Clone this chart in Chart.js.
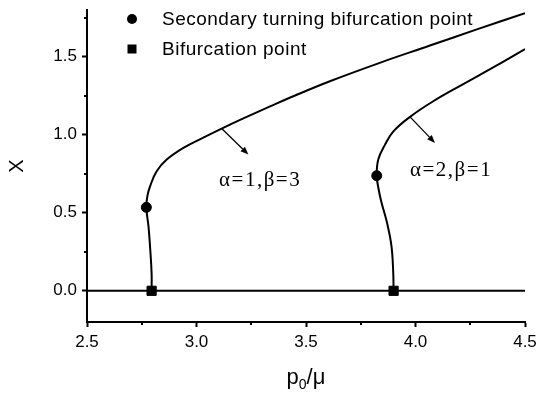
<!DOCTYPE html>
<html><head><meta charset="utf-8">
<script src="https://cdn.jsdelivr.net/npm/chart.js@4/dist/chart.umd.min.js"></script>
<style>html,body{margin:0;padding:0;background:#fff}#wrap{width:537px;height:397px;position:relative}</style>
</head><body><div id="wrap"><canvas id="c" width="537" height="397"></canvas></div>
<script>
const xTicks = [2.5, 3.0, 3.5, 4.0, 4.5];
const yTicks = [0, 0.5, 1.0, 1.5];
const xMinor = [2.75, 3.25, 3.75, 4.25];
const yMinor = [0.25, 0.75, 1.25, 1.75];

const curve1X = [2.795, 2.795, 2.789, 2.781, 2.771, 2.776, 2.788, 2.818, 2.864, 2.940, 3.031, 3.115, 3.214, 3.336, 3.450, 3.612, 3.840, 4.066, 4.280, 4.500];
const curve1Y = [0.000, 0.110, 0.260, 0.410, 0.535, 0.610, 0.670, 0.766, 0.841, 0.916, 0.982, 1.040, 1.105, 1.182, 1.252, 1.345, 1.463, 1.572, 1.676, 1.780];
const curve2X = [3.900, 3.898, 3.890, 3.870, 3.845, 3.832, 3.823, 3.830, 3.861, 3.899, 3.975, 4.081, 4.218, 4.371, 4.500];
const curve2Y = [0.000, 0.128, 0.289, 0.436, 0.565, 0.648, 0.738, 0.841, 0.937, 1.022, 1.115, 1.215, 1.325, 1.445, 1.550];
const trivialX = [2.5, 4.5];
const trivialY = [0, 0];
const turningX = [2.771, 3.823];
const turningY = [0.535, 0.738];
const bifX = [2.795, 3.900];
const bifY = [0, 0];

const legendLabels = ['Secondary turning bifurcation point', 'Bifurcation point'];
const curveLabels = ['α=1,β=3', 'α=2,β=1'];
const curveLabelX = [3.103, 3.975];
const curveLabelY = [0.669, 0.734];
const arrowFromX = [3.115, 3.975];
const arrowFromY = [1.040, 1.115];
const arrowToX = [3.237, 4.089];
const arrowToY = [0.873, 0.948];
const xTitle = ['p', '0', '/μ'];
const yTitle = 'X';

const pts = (xs, ys) => xs.map((x, i) => ({x, y: ys[i]}));
const SANS = "'Liberation Sans', Arial, Helvetica, sans-serif";
const SERIF = "'Liberation Serif', 'Times New Roman', serif";

const extras = {
  id: 'extras',
  afterDraw(chart) {
    const ctx = chart.ctx, xs = chart.scales.x, ys = chart.scales.y, ca = chart.chartArea;
    ctx.save();
    ctx.strokeStyle = '#000'; ctx.fillStyle = '#000'; ctx.lineWidth = 2;
    // minor ticks
    ctx.beginPath();
    xMinor.forEach(v => { const p = Math.round(xs.getPixelForValue(v)); ctx.moveTo(p, ca.bottom); ctx.lineTo(p, ca.bottom + 3); });
    yMinor.forEach(v => { const p = Math.round(ys.getPixelForValue(v)); ctx.moveTo(ca.left, p); ctx.lineTo(ca.left - 3, p); });
    ctx.stroke();
    // arrows
    ctx.lineWidth = 1.3;
    arrowFromX.forEach((fx, i) => {
      const x1 = xs.getPixelForValue(fx), y1 = ys.getPixelForValue(arrowFromY[i]);
      const x2 = xs.getPixelForValue(arrowToX[i]), y2 = ys.getPixelForValue(arrowToY[i]);
      const ang = Math.atan2(y2 - y1, x2 - x1), L = 8, W = 3.2;
      const bx = x2 - L * Math.cos(ang), by = y2 - L * Math.sin(ang);
      ctx.beginPath(); ctx.moveTo(x1, y1); ctx.lineTo(bx, by); ctx.stroke();
      ctx.beginPath(); ctx.moveTo(x2, y2);
      ctx.lineTo(bx + W * Math.sin(ang), by - W * Math.cos(ang));
      ctx.lineTo(bx - W * Math.sin(ang), by + W * Math.cos(ang));
      ctx.closePath(); ctx.fill();
    });
    // curve labels
    ctx.font = '21px ' + SERIF; ctx.textBaseline = 'alphabetic'; ctx.textAlign = 'left';
    try { ctx.letterSpacing = '1.5px'; } catch (e) {}
    curveLabels.forEach((t, i) => ctx.fillText(t, xs.getPixelForValue(curveLabelX[i]), ys.getPixelForValue(curveLabelY[i])));
    try { ctx.letterSpacing = '0.5px'; } catch (e) {}
    // legend
    const lx = ca.left + 45, ly0 = ca.top + 9, dy = 30;
    ctx.beginPath(); ctx.arc(lx, ly0, 5, 0, Math.PI * 2); ctx.fill();
    ctx.fillRect(lx - 4.5, ly0 + dy - 4.5, 9, 9);
    ctx.font = '19px ' + SANS; ctx.textBaseline = 'middle';
    legendLabels.forEach((t, i) => ctx.fillText(t, lx + 30, ly0 + i * dy + 1));
    try { ctx.letterSpacing = '0px'; } catch (e) {}
    // y title
    ctx.save();
    ctx.translate(17.5, (ca.top + ca.bottom) / 2);
    ctx.rotate(-Math.PI / 2);
    ctx.font = '20px ' + SANS; ctx.textAlign = 'center'; ctx.textBaseline = 'middle';
    ctx.fillText(yTitle, 0, 0);
    ctx.restore();
    // x title with subscript
    ctx.textBaseline = 'alphabetic'; ctx.textAlign = 'left';
    const big = '22px ' + SANS, small = '14px ' + SANS;
    ctx.font = big; const w0 = ctx.measureText(xTitle[0]).width, w2 = ctx.measureText(xTitle[2]).width;
    ctx.font = small; const w1 = ctx.measureText(xTitle[1]).width;
    const tot = w0 + w1 + w2; let tx = (ca.left + ca.right) / 2 - tot / 2; const base = ca.bottom + 62;
    ctx.font = big; ctx.fillText(xTitle[0], tx, base); tx += w0;
    ctx.font = small; ctx.fillText(xTitle[1], tx, base + 5); tx += w1;
    ctx.font = big; ctx.fillText(xTitle[2], tx, base);
    ctx.restore();
  }
};

const tickFont = {family: SANS, size: 17};
new Chart(document.getElementById('c'), {
  type: 'scatter',
  data: {
    datasets: [
      {data: pts(turningX, turningY), pointStyle: 'circle', pointRadius: 5, backgroundColor: '#000', borderColor: '#000', showLine: false, order: 0},
      {data: pts(bifX, bifY), pointStyle: 'rect', pointRadius: 6.5, backgroundColor: '#000', borderColor: '#000', showLine: false, order: 0},
      {data: pts(curve1X, curve1Y), showLine: true, borderColor: '#000', borderWidth: 2, pointRadius: 0, tension: 0.4, fill: false, order: 1},
      {data: pts(curve2X, curve2Y), showLine: true, borderColor: '#000', borderWidth: 2, pointRadius: 0, tension: 0.4, fill: false, order: 1},
      {data: pts(trivialX, trivialY), showLine: true, borderColor: '#000', borderWidth: 2, pointRadius: 0, tension: 0, fill: false, order: 1}
    ]
  },
  options: {
    responsive: false, animation: false, devicePixelRatio: 1,
    layout: {padding: {top: 10, right: 12, left: 0, bottom: 0}},
    plugins: {legend: {display: false}, tooltip: {enabled: false}},
    scales: {
      x: {
        type: 'linear', min: 2.5, max: 4.5,
        afterBuildTicks: s => { s.ticks = xTicks.map(v => ({value: v})); },
        afterFit: s => { s.height = 75; s.paddingLeft = 0; s.paddingRight = 0; s.paddingTop = 0; s.paddingBottom = 0; },
        ticks: {font: tickFont, color: '#000', padding: 5, maxRotation: 0, autoSkip: false, callback: v => Number(v).toFixed(1)},
        grid: {display: true, drawOnChartArea: false, drawTicks: true, tickLength: 5, tickWidth: 2, tickColor: '#000'},
        border: {display: true, color: '#000', width: 2}
      },
      y: {
        type: 'linear', min: -0.2, max: 1.8,
        afterBuildTicks: s => { s.ticks = yTicks.map(v => ({value: v})); },
        afterFit: s => { s.width = 87; s.paddingLeft = 0; s.paddingRight = 0; s.paddingTop = 0; s.paddingBottom = 0; },
        ticks: {font: tickFont, color: '#000', padding: 5, autoSkip: false, callback: v => Number(v).toFixed(1)},
        grid: {display: true, drawOnChartArea: false, drawTicks: true, tickLength: 5, tickWidth: 2, tickColor: '#000'},
        border: {display: true, color: '#000', width: 2}
      }
    }
  },
  plugins: [extras]
});
</script></body></html>
